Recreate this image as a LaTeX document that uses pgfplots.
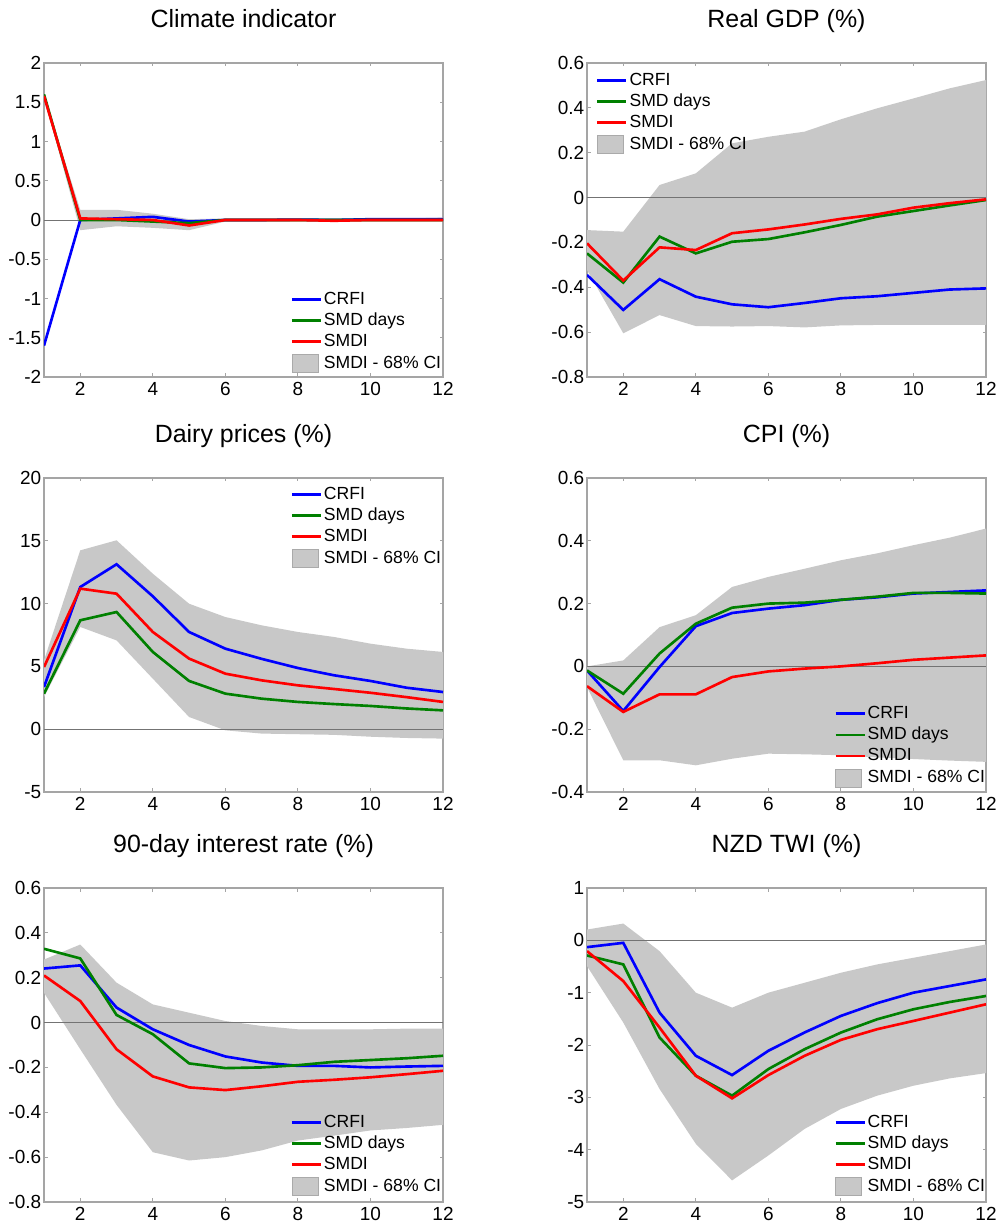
\documentclass[border=0pt]{standalone}
\usepackage{fontspec}
\setmainfont{Liberation Sans}
\usepackage{pgfplots}
\pgfplotsset{compat=1.18}

\definecolor{mblue}{RGB}{0,0,255}
\definecolor{mgreen}{RGB}{0,128,0}
\definecolor{mred}{RGB}{255,0,0}
\definecolor{cigray}{RGB}{200,200,200}
\definecolor{framegray}{RGB}{165,165,165}

\pgfplotsset{
  panel/.style={
    width=7.98cm, height=6.28cm, scale only axis,
    anchor=south west,
    xmin=1, xmax=12, xtick={2,4,6,8,10,12},
    tick pos=both, tick align=inside,
    major tick length=0.07cm,
    axis line style={draw=framegray, line width=0.6pt},
    tick style={draw=framegray, line width=0.5pt},
    scaled ticks=false,
    /pgf/number format/assume math mode=true,
    /pgf/number format/fixed,
    tick label style={font=\fontsize{10.8}{13}\selectfont, inner sep=0pt},
    xticklabel shift=0.1cm,
    yticklabel shift=0.05cm,
    title style={at={(0.5,1)}, anchor=base, yshift=0.49cm,
                 font=\fontsize{14.2}{17}\selectfont},
    legend cell align=left,
    legend style={draw=none, fill=none, inner sep=0pt,
                  font=\fontsize{10}{12}\selectfont,
                  row sep=0.085cm,
                  nodes={inner xsep=1pt, inner ysep=0.5pt}},
    legend image code/.code={\draw[#1] (0cm,0cm) -- (0.58cm,0cm);},
  },
  crfi/.style={mblue, line width=1.5pt},
  smd/.style={mgreen, line width=1.5pt},
  smdi/.style={mred, line width=1.5pt},
  band/.style={fill=cigray, draw=none, forget plot},
  zero/.style={draw=black!55, line width=0.5pt, forget plot},
  cileg/.style={legend image code/.code={
      \fill[cigray!85!black] (0cm,-0.18cm) rectangle (0.52cm,0.18cm);
      \fill[cigray] (0.02cm,-0.16cm) rectangle (0.5cm,0.16cm);}},
}

\begin{document}
\begin{tikzpicture}
\useasboundingbox (0,0) rectangle (19.94cm,24.54cm);

% ---- Climate indicator ---------------------------------------------
\begin{axis}[panel, at={(0.88cm,17.0cm)},
  title={Climate indicator},
  ymin=-2, ymax=2, ytick={-2,-1.5,-1,-0.5,0,0.5,1,1.5,2},
  legend style={at={(0.617,0.275)}, anchor=north west}]
\addplot[band] coordinates {(1,1.6) (2,0.13) (3,0.13) (4,0.08) (5,0.01) (6,0.02)
  (7,0.02) (8,0.02) (9,0.02) (10,0.02) (11,0.02) (12,0.03)
  (12,-0.02) (11,-0.02) (10,-0.02) (9,-0.02) (8,-0.02) (7,-0.02) (6,-0.02)
  (5,-0.13) (4,-0.1) (3,-0.08) (2,-0.13) (1,1.56)} -- cycle;
\addplot[zero] coordinates {(1,0) (12,0)};
\addplot[crfi] coordinates {(1,-1.6) (2,0.0) (3,0.02) (4,0.04) (5,-0.02) (6,0.0)
  (7,0.0) (8,0.005) (9,0.0) (10,0.01) (11,0.01) (12,0.01)};
\addplot[smd] coordinates {(1,1.6) (2,0.0) (3,0.0) (4,-0.02) (5,-0.04) (6,0.0)
  (7,0.0) (8,0.0) (9,0.0) (10,0.0) (11,0.0) (12,0.0)};
\addplot[smdi] coordinates {(1,1.58) (2,0.02) (3,0.01) (4,0.0) (5,-0.07) (6,0.0)
  (7,0.0) (8,0.0) (9,-0.01) (10,0.0) (11,0.0) (12,0.0)};
\addlegendimage{cileg}
\legend{CRFI,SMD days,SMDI,SMDI - 68\% CI}
\end{axis}

% ---- Real GDP --------------------------------------------------------
\begin{axis}[panel, at={(11.74cm,17.0cm)},
  title={Real GDP (\%)},
  ymin=-0.8, ymax=0.6, ytick={-0.8,-0.6,-0.4,-0.2,0,0.2,0.4,0.6},
  legend style={at={(0.022,0.972)}, anchor=north west}]
\addplot[band] coordinates {(1,-0.145) (2,-0.152) (3,0.056) (4,0.108) (5,0.242)
  (6,0.271) (7,0.294) (8,0.349) (9,0.398) (10,0.442) (11,0.487) (12,0.524)
  (12,-0.568) (11,-0.568) (10,-0.568) (9,-0.568) (8,-0.57) (7,-0.579)
  (6,-0.573) (5,-0.575) (4,-0.573) (3,-0.524) (2,-0.605) (1,-0.323)} -- cycle;
\addplot[zero] coordinates {(1,0) (12,0)};
\addplot[crfi] coordinates {(1,-0.345) (2,-0.501) (3,-0.364) (4,-0.442) (5,-0.476)
  (6,-0.489) (7,-0.47) (8,-0.449) (9,-0.44) (10,-0.425) (11,-0.41) (12,-0.405)};
\addplot[smd] coordinates {(1,-0.249) (2,-0.379) (3,-0.174) (4,-0.249) (5,-0.197)
  (6,-0.185) (7,-0.155) (8,-0.122) (9,-0.085) (10,-0.06) (11,-0.035) (12,-0.011)};
\addplot[smdi] coordinates {(1,-0.204) (2,-0.37) (3,-0.222) (4,-0.234) (5,-0.159)
  (6,-0.142) (7,-0.12) (8,-0.095) (9,-0.075) (10,-0.045) (11,-0.025) (12,-0.008)};
\addlegendimage{cileg}
\legend{CRFI,SMD days,SMDI,SMDI - 68\% CI}
\end{axis}

% ---- Dairy prices ------------------------------------------------------
\begin{axis}[panel, at={(0.88cm,8.70cm)},
  title={Dairy prices (\%)},
  ymin=-5, ymax=20, ytick={-5,0,5,10,15,20},
  legend style={at={(0.617,0.975)}, anchor=north west}]
\addplot[band] coordinates {(1,5.48) (2,14.24) (3,15.04) (4,12.38) (5,9.99)
  (6,8.93) (7,8.27) (8,7.74) (9,7.34) (10,6.81) (11,6.41) (12,6.15)
  (12,-0.75) (11,-0.7) (10,-0.6) (9,-0.45) (8,-0.4) (7,-0.35) (6,-0.09)
  (5,0.97) (4,4.02) (3,7.07) (2,8.14) (1,2.56)} -- cycle;
\addplot[zero] coordinates {(1,0) (12,0)};
\addplot[crfi] coordinates {(1,3.36) (2,11.32) (3,13.13) (4,10.58) (5,7.74)
  (6,6.41) (7,5.6) (8,4.87) (9,4.29) (10,3.84) (11,3.3) (12,2.96)};
\addplot[smd] coordinates {(1,2.83) (2,8.67) (3,9.33) (4,6.15) (5,3.84)
  (6,2.83) (7,2.43) (8,2.17) (9,2.0) (10,1.85) (11,1.65) (12,1.5)};
\addplot[smdi] coordinates {(1,4.95) (2,11.19) (3,10.79) (4,7.74) (5,5.62)
  (6,4.42) (7,3.89) (8,3.49) (9,3.2) (10,2.9) (11,2.55) (12,2.17)};
\addlegendimage{cileg}
\legend{CRFI,SMD days,SMDI,SMDI - 68\% CI}
\end{axis}

% ---- CPI -------------------------------------------------------------
\begin{axis}[panel, at={(11.74cm,8.70cm)},
  title={CPI (\%)},
  ymin=-0.4, ymax=0.6, ytick={-0.4,-0.2,0,0.2,0.4,0.6},
  legend style={at={(0.619,0.277)}, anchor=north west}]
\addplot[band] coordinates {(1,0.0) (2,0.019) (3,0.125) (4,0.163) (5,0.253)
  (6,0.285) (7,0.311) (8,0.338) (9,0.36) (10,0.386) (11,0.41) (12,0.439)
  (12,-0.304) (11,-0.3) (10,-0.295) (9,-0.29) (8,-0.283) (7,-0.28) (6,-0.278)
  (5,-0.294) (4,-0.315) (3,-0.299) (2,-0.299) (1,-0.066)} -- cycle;
\addplot[zero] coordinates {(1,0) (12,0)};
\addplot[crfi] coordinates {(1,-0.013) (2,-0.142) (3,-0.002) (4,0.128) (5,0.17)
  (6,0.184) (7,0.195) (8,0.212) (9,0.22) (10,0.232) (11,0.237) (12,0.242)};
\addplot[smd] coordinates {(1,-0.013) (2,-0.087) (3,0.041) (4,0.136) (5,0.187)
  (6,0.2) (7,0.203) (8,0.212) (9,0.222) (10,0.234) (11,0.234) (12,0.232)};
\addplot[smdi] coordinates {(1,-0.063) (2,-0.145) (3,-0.089) (4,-0.089) (5,-0.034)
  (6,-0.016) (7,-0.007) (8,0.0) (9,0.01) (10,0.021) (11,0.028) (12,0.035)};
\addlegendimage{cileg}
\legend{CRFI,SMD days,SMDI,SMDI - 68\% CI}
\end{axis}

% ---- 90-day interest rate ----------------------------------------------
\begin{axis}[panel, at={(0.88cm,0.50cm)},
  title={90-day interest rate (\%)},
  ymin=-0.8, ymax=0.6, ytick={-0.8,-0.6,-0.4,-0.2,0,0.2,0.4,0.6},
  legend style={at={(0.617,0.281)}, anchor=north west}]
\addplot[band] coordinates {(1,0.281) (2,0.348) (3,0.178) (4,0.081) (5,0.044)
  (6,0.007) (7,-0.015) (8,-0.03) (9,-0.03) (10,-0.03) (11,-0.027) (12,-0.027)
  (12,-0.456) (11,-0.47) (10,-0.481) (9,-0.504) (8,-0.526) (7,-0.57) (6,-0.6)
  (5,-0.615) (4,-0.578) (3,-0.367) (2,-0.119) (1,0.133)} -- cycle;
\addplot[zero] coordinates {(1,0) (12,0)};
\addplot[crfi] coordinates {(1,0.241) (2,0.255) (3,0.067) (4,-0.03) (5,-0.1)
  (6,-0.151) (7,-0.178) (8,-0.193) (9,-0.193) (10,-0.2) (11,-0.196) (12,-0.193)};
\addplot[smd] coordinates {(1,0.329) (2,0.286) (3,0.034) (4,-0.052) (5,-0.182)
  (6,-0.203) (7,-0.2) (8,-0.19) (9,-0.175) (10,-0.167) (11,-0.159) (12,-0.148)};
\addplot[smdi] coordinates {(1,0.21) (2,0.096) (3,-0.119) (4,-0.24) (5,-0.289)
  (6,-0.301) (7,-0.284) (8,-0.264) (9,-0.255) (10,-0.244) (11,-0.23) (12,-0.215)};
\addlegendimage{cileg}
\legend{CRFI,SMD days,SMDI,SMDI - 68\% CI}
\end{axis}

% ---- NZD TWI -------------------------------------------------------------
\begin{axis}[panel, at={(11.74cm,0.50cm)},
  title={NZD TWI (\%)},
  ymin=-5, ymax=1, ytick={-5,-4,-3,-2,-1,0,1},
  legend style={at={(0.619,0.281)}, anchor=north west}]
\addplot[band] coordinates {(1,0.206) (2,0.321) (3,-0.206) (4,-1.0) (5,-1.286)
  (6,-1.0) (7,-0.81) (8,-0.619) (9,-0.46) (10,-0.333) (11,-0.206) (12,-0.079)
  (12,-2.537) (11,-2.638) (10,-2.778) (9,-2.968) (8,-3.222) (7,-3.603) (6,-4.111)
  (5,-4.587) (4,-3.889) (3,-2.841) (2,-1.571) (1,-0.492)} -- cycle;
\addplot[zero] coordinates {(1,0) (12,0)};
\addplot[crfi] coordinates {(1,-0.13) (2,-0.048) (3,-1.381) (4,-2.206) (5,-2.575)
  (6,-2.11) (7,-1.76) (8,-1.444) (9,-1.2) (10,-1.0) (11,-0.873) (12,-0.746)};
\addplot[smd] coordinates {(1,-0.289) (2,-0.46) (3,-1.857) (4,-2.587) (5,-2.968)
  (6,-2.46) (7,-2.08) (8,-1.762) (9,-1.508) (10,-1.317) (11,-1.178) (12,-1.063)};
\addplot[smdi] coordinates {(1,-0.206) (2,-0.778) (3,-1.667) (4,-2.587) (5,-3.019)
  (6,-2.575) (7,-2.206) (8,-1.902) (9,-1.698) (10,-1.54) (11,-1.381) (12,-1.222)};
\addlegendimage{cileg}
\legend{CRFI,SMD days,SMDI,SMDI - 68\% CI}
\end{axis}
\end{tikzpicture}
\end{document}
